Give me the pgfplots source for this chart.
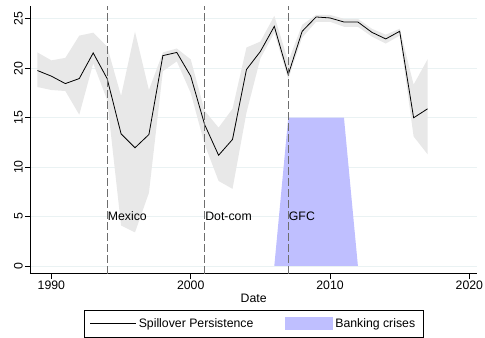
\documentclass[border=0pt]{standalone}
\usepackage{fontspec}
\setmainfont{Liberation Sans}
\usepackage{pgfplots}
\usepackage{pgfplotstable}
\pgfplotsset{compat=1.18}
\usepgfplotslibrary{fillbetween}
\definecolor{bandgray}{RGB}{232,232,232}
\definecolor{crisisblue}{RGB}{191,191,255}
\definecolor{gridc}{RGB}{234,242,243}
\definecolor{dashgray}{RGB}{110,110,110}
\pgfplotstableread{
year est lo hi
1989 19.77 18.1 21.6
1990 19.2 17.8 20.8
1991 18.45 17.7 21.05
1992 18.96 15.3 23.3
1993 21.55 20.5 23.6
1994 18.96 16.8 22.2
1995 13.37 4.1 17.2
1996 11.96 3.4 23.7
1997 13.3 7.4 17.8
1998 21.28 19.7 21.6
1999 21.6 20.7 22.0
2000 19.2 17.5 20.9
2001 14.3 12.3 15.7
2002 11.2 8.6 14.0
2003 12.8 7.8 15.9
2004 19.87 15.5 22.1
2005 21.7 21.0 22.7
2006 24.24 23.6 25.3
2007 19.36 18.9 20.7
2008 23.74 23.1 24.4
2009 25.19 24.7 25.4
2010 25.09 24.7 25.4
2011 24.68 24.2 25.0
2012 24.68 24.2 25.0
2013 23.64 23.2 24.0
2014 22.97 22.5 23.4
2015 23.74 23.3 24.0
2016 14.99 13.1 18.35
2017 15.9 11.3 20.9
}\spill
\pgfplotstableread{
year val
2006 0
2007 15
2008 15
2009 15
2010 15
2011 15
2012 0
}\crisis
\begin{document}
\begin{tikzpicture}
\begin{axis}[
  scale only axis,
  width=448pt, height=268pt,
  xmin=1988.46, xmax=2020.57,
  ymin=-0.77, ymax=26.3,
  axis lines=left,
  axis line style={-, black, line width=0.7pt},
  font=\fontsize{12.3}{14}\selectfont,
  /pgf/number format/assume math mode=true,
  /pgf/number format/1000 sep={},
  xtick={1990,2000,2010,2020},
  ytick={0,5,10,15,20,25},
  tick align=outside,
  major tick length=5pt,
  tick style={black, line width=0.7pt},
  yticklabel style={rotate=90, anchor=south, inner sep=2pt},
  xticklabel style={inner sep=2pt},
  ymajorgrids,
  grid style={gridc, line width=0.8pt},
  xlabel={Date},
  xlabel style={yshift=1pt},
  legend style={at={(0.5,-0.137)}, anchor=north, legend columns=2,
    draw=black, line width=0.6pt, inner xsep=6pt, inner ysep=6pt,
    font=\fontsize{12.3}{14}\selectfont,
    /tikz/every even column/.append style={column sep=30pt}},
  legend cell align=left,
]
\addplot[name path=hi, draw=none, forget plot] table[x=year, y=hi] {\spill};
\addplot[name path=lo, draw=none, forget plot] table[x=year, y=lo] {\spill};
\addplot[fill=bandgray, draw=none, forget plot] fill between[of=hi and lo];
\addplot[black, line width=0.8pt,
  legend image code/.code={\draw[black, line width=0.8pt] (0pt,0pt) -- (46pt,0pt);}]
  table[x=year, y=est] {\spill};
\addlegendentry{Spillover Persistence}
\addplot[fill=crisisblue, draw=none,
  legend image code/.code={\fill[crisisblue] (0pt,-6.5pt) rectangle (48pt,6.5pt);}]
  table[x=year, y=val] {\crisis} \closedcycle;
\addlegendentry{Banking crises}
\addplot[dashgray, line width=0.7pt, dash pattern=on 8pt off 3pt, forget plot] coordinates {(1994,-0.77) (1994,26.3)};
\addplot[dashgray, line width=0.7pt, dash pattern=on 8pt off 3pt, forget plot] coordinates {(2001,-0.77) (2001,26.3)};
\addplot[dashgray, line width=0.7pt, dash pattern=on 8pt off 3pt, forget plot] coordinates {(2007,-0.77) (2007,26.3)};
\node[anchor=west, inner sep=0.5pt] at (axis cs:1994,5) {Mexico};
\node[anchor=west, inner sep=0.5pt] at (axis cs:2001,5) {Dot-com};
\node[anchor=west, inner sep=0.5pt] at (axis cs:2007,5) {GFC};
\end{axis}
\useasboundingbox (-30pt,-64pt) rectangle (455pt,274pt);
\end{tikzpicture}
\end{document}
